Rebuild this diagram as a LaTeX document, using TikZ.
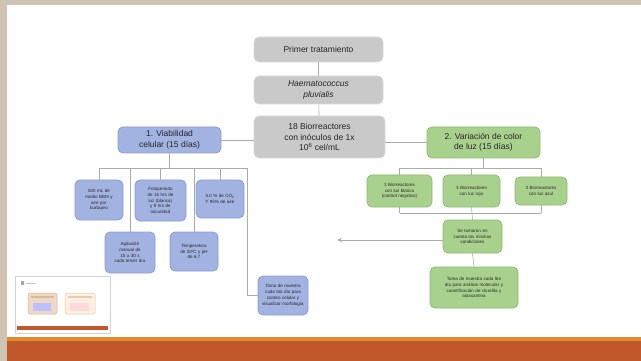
\documentclass[tikz,border=0pt]{standalone}
\usepackage{fontspec}
\setmainfont{Liberation Sans}
\usetikzlibrary{arrows.meta}
\definecolor{beige}{HTML}{CFC4B2}
\definecolor{orangeband}{HTML}{C0582B}
\definecolor{orangeline}{HTML}{E08A2C}
\definecolor{grayfill}{HTML}{C9C9C9}
\definecolor{grayedge}{HTML}{DADADA}
\definecolor{bluefill}{HTML}{A2B3E2}
\definecolor{blueedge}{HTML}{8A9FD6}
\definecolor{greenfill}{HTML}{A9D18E}
\definecolor{greenedge}{HTML}{8DBD6E}
\definecolor{linecol}{HTML}{ABABAB}
\definecolor{txt}{HTML}{262626}
\tikzset{
  basebox/.style={rounded corners=5pt, line width=0.8pt, align=center, inner sep=1pt, text=txt},
  graybox/.style={basebox, fill=grayfill, draw=grayedge, font=\fontsize{8.5}{10.5}\selectfont},
  bluebig/.style={basebox, fill=bluefill, draw=blueedge, font=\fontsize{8.5}{10.5}\selectfont},
  greenbig/.style={basebox, fill=greenfill, draw=greenedge, font=\fontsize{8.5}{10.5}\selectfont},
  bluesmall/.style={basebox, fill=bluefill, draw=blueedge, font=\fontsize{4.5}{5.8}\selectfont},
  greensmall/.style={basebox, fill=greenfill, draw=greenedge, font=\fontsize{4.5}{5.8}\selectfont},
  conn/.style={draw=linecol, line width=0.6pt},
}
\begin{document}
\begin{tikzpicture}[x=1pt,y=-1pt]
\useasboundingbox (0,0) rectangle (641,361);
% background
\fill[beige] (0,0) rectangle (641,361);
\fill[white] (7,5) rectangle (641,338);
\fill[orangeline] (7,337) rectangle (641,341);
\fill[orangeband] (7,341) rectangle (641,361);

% thumbnail
\draw[fill=white, draw=gray!35, line width=0.4pt] (15,276) rectangle (110,333);
\fill[gray!70] (21,281) rectangle (24,285);
\fill[gray!45] (26,282.5) rectangle (36,283.5);
\draw[rounded corners=1.5pt, fill=brown!30, draw=brown!60, line width=0.5pt] (28,293) rectangle (57,314);
\draw[rounded corners=1.5pt, fill=orange!12, draw=brown!45, line width=0.5pt] (65,293) rectangle (95,314);
\fill[blue!25] (33,303) rectangle (51,311);
\fill[red!15] (70,303) rectangle (89,311);
\fill[brown!55] (31,296) rectangle (54,298);
\fill[brown!40] (68,296) rectangle (92,298);
\fill[orangeband] (17,326) rectangle (108,330);

% main column
\node[graybox, minimum width=129pt, minimum height=25pt] (p1) at (318.5,49.5) {Primer tratamiento};
\node[graybox, minimum width=129pt, minimum height=28pt] (p2) at (318.5,90) {\itshape Haematococcus\\\itshape pluvialis};
\node[graybox, minimum width=131pt, minimum height=42pt] (p3) at (319.5,137) {18 Biorreactores\\con inóculos de 1x\\10\textsuperscript{6} cel/mL};

% branch 1
\node[bluebig, minimum width=103pt, minimum height=26pt] (v1) at (169.5,140) {1. Viabilidad\\celular (15 días)};
\node[bluesmall, minimum width=48pt, minimum height=40pt, text width=42pt] (a) at (99,200) {500 mL de\\medio BBM y\\aire por\\burbujeo};
\node[bluesmall, minimum width=51pt, minimum height=41pt, text width=46pt] (b) at (160.5,200.5) {Fotoperiodo\\de 16 hrs de\\luz (blanca)\\y 8 hrs de\\oscuridad};
\node[bluesmall, minimum width=48pt, minimum height=38pt, text width=46pt] (c) at (220,199) {5.0 \% de CO\textsubscript{2}\\Y 95\% de aire};
\node[bluesmall, minimum width=50pt, minimum height=41pt, text width=46pt] (d) at (130,252.5) {Agitación\\manual de\\15 a 30 s\\cada tercer día};
\node[bluesmall, minimum width=48pt, minimum height=39pt, text width=44pt] (e) at (194,251.5) {Temperatura\\de 20ºC y pH\\de 6.7};
\node[bluesmall, minimum width=50pt, minimum height=39pt, text width=48pt] (f) at (283,295.5) {Toma de muestra\\cada 5to día para\\conteo celular y\\visualizar morfología};

% branch 2
\node[greenbig, minimum width=113pt, minimum height=31pt] (v2) at (483.5,142.5) {2. Variación de color\\de luz (15 días)};
\node[greensmall, minimum width=65pt, minimum height=32pt, text width=62pt] (g) at (399.5,191) {3 Biorreactores\\con luz blanca\\(control negativo)};
\node[greensmall, minimum width=57pt, minimum height=32pt, text width=54pt] (h) at (471.5,191) {3 Biorreactores\\con luz roja};
\node[greensmall, minimum width=52pt, minimum height=28pt, text width=50pt] (i) at (541,191) {3 Biorreactores\\con luz azul};
\node[greensmall, minimum width=59pt, minimum height=33pt, text width=56pt] (j) at (472.5,236.5) {Se tomaron en\\cuenta las mismas\\condiciones};
\node[greensmall, minimum width=88pt, minimum height=41pt, text width=86pt] (k) at (474,287.5) {Toma de muestra cada 5to\\día para análisis molecular y\\cuantificación de clorofila y\\astaxantina};

% connectors main column
\draw[conn] (p1) -- (p2);
\draw[conn] (p2) -- (p3);
\draw[conn] (v1.east) -- (p3.west |- v1.east);
\draw[conn] (p3.east |- v2.west) -- (v2.west);

% left tree
\coordinate (lb1) at (99,168);
\coordinate (lb2) at (247,168);
\draw[conn] (lb1) -- (lb2);
\draw[conn] (v1.south) -- (v1.south |- lb1);
\draw[conn] (a.north) -- (a.north |- lb1);
\draw[conn] (b.north) -- (b.north |- lb1);
\draw[conn] (c.north) -- (c.north |- lb1);
\draw[conn] (d.north) -- (d.north |- lb1);
\draw[conn] (e.north) -- (e.north |- lb1);
\draw[conn] (lb2) |- (f.west);

% right tree
\coordinate (rb1) at (399.5,168);
\coordinate (rb2) at (541,168);
\draw[conn] (rb1) -- (rb2);
\draw[conn] (v2.south) -- (v2.south |- rb1);
\draw[conn] (g.north) -- (g.north |- rb1);
\draw[conn] (h.north) -- (h.north |- rb1);
\draw[conn] (i.north) -- (i.north |- rb1);
\coordinate (rc1) at (399.5,213);
\coordinate (rc2) at (541,213);
\draw[conn] (rc1) -- (rc2);
\draw[conn] (g.south) -- (rc1);
\draw[conn] (i.south) -- (rc2);
\draw[conn] (h.south) -- (j.north);
\draw[conn] (j.south) -- (k.north);
\coordinate (arrowend) at (337,240);
\draw[conn, -{Stealth[length=5pt,width=4pt]}] (j.west |- arrowend) -- (arrowend);
\end{tikzpicture}
\end{document}
